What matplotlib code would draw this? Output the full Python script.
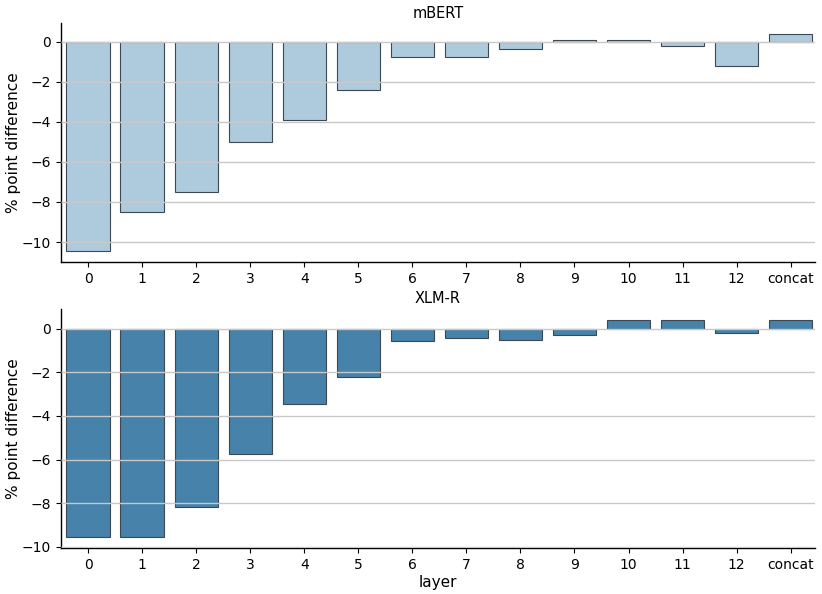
import numpy as np
import matplotlib
matplotlib.use("Agg")
import matplotlib.pyplot as plt

# === Data ===
layers = ["0", "1", "2", "3", "4", "5", "6", "7", "8", "9", "10", "11", "12", "concat"]
mbert_diff = [-10.45, -8.5, -7.5, -5.0, -3.92, -2.42, -0.77, -0.77, -0.35, 0.1, 0.07, -0.2, -1.22, 0.38]
xlmr_diff = [-9.53, -9.56, -8.17, -5.74, -3.45, -2.21, -0.55, -0.44, -0.5, -0.27, 0.4, 0.41, -0.2, 0.41]

panels = [("mBERT", mbert_diff, "#aecbde"), ("XLM-R", xlmr_diff, "#4682aa")]

# === Plot ===
fig = plt.figure(figsize=(8.22, 5.94), dpi=100)
boxes = [[0.0742, 0.559, 0.9173, 0.402], [0.0742, 0.0774, 0.9173, 0.4026]]

x = np.arange(len(layers))
for (title, vals, color), box in zip(panels, boxes):
    ax = fig.add_axes(box)
    ax.bar(x, vals, width=0.8, color=color, edgecolor="#3c4854", linewidth=0.8, zorder=1)
    ax.yaxis.grid(True, color="#c8c8c8", linewidth=1.0, zorder=2)
    ax.set_axisbelow(False)
    ax.set_xticks(x)
    ax.set_xticklabels(layers, fontsize=10)
    ax.tick_params(axis="y", labelsize=10)
    ax.set_xlim(-0.5, 13.45)
    ax.set_title(title, fontsize=10.5, pad=4)
    ax.set_ylabel("% point difference", fontsize=11, labelpad=1)
    ax.spines["top"].set_visible(False)
    ax.spines["right"].set_visible(False)
    for sp in ("left", "bottom"):
        ax.spines[sp].set_linewidth(1.0)

ax.set_xlabel("layer", fontsize=11, labelpad=2)

plt.savefig("out.png", dpi=100)
